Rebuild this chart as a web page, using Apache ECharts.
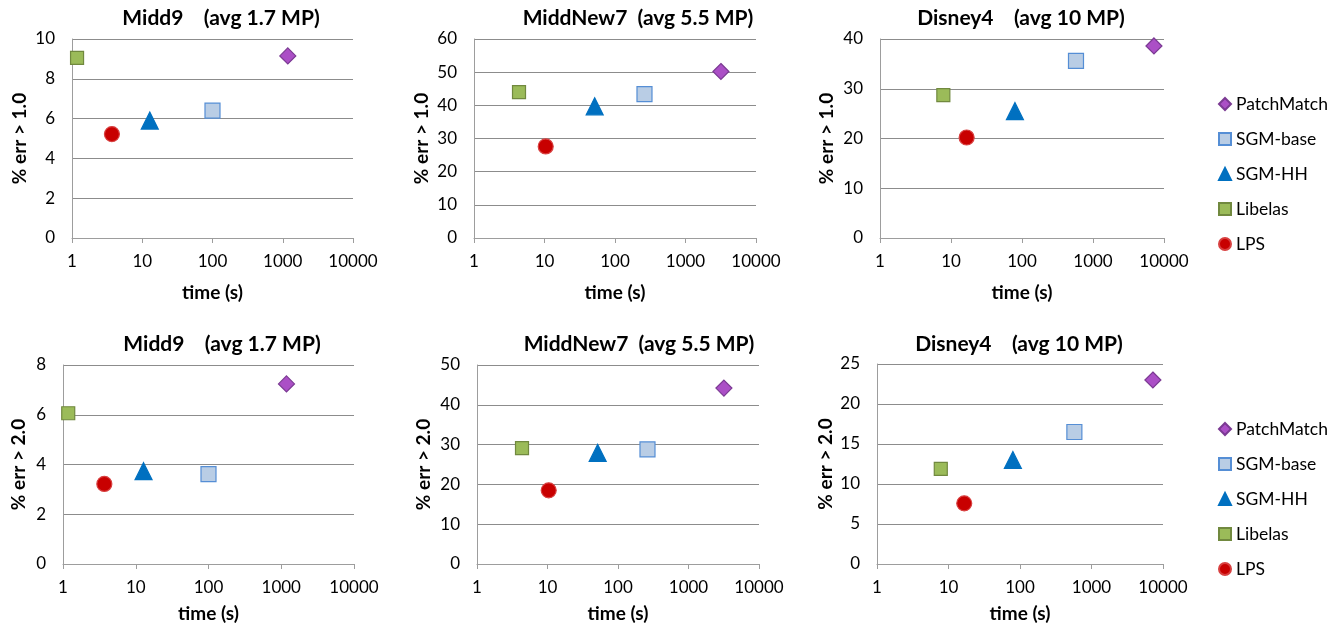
<!DOCTYPE html>
<html>
<head>
<meta charset="utf-8">
<title>Error vs run time</title>
<script src="https://cdn.jsdelivr.net/npm/echarts@6/dist/echarts.min.js"></script>
<style>
html, body { margin: 0; padding: 0; background: #fff; }
#chart { width: 1338px; height: 629px; }
</style>
</head>
<body>
<div id="chart"></div>
<script>
const methods = ['PatchMatch', 'SGM-base', 'SGM-HH', 'Libelas', 'LPS']

// run time in seconds, same order as methods
const midd9Time = [1180, 100, 12.8, 1.18, 3.7]
const middNew7Time = [3180, 262, 51.5, 4.35, 10.4]
const disney4Time = [7220, 576, 79.5, 7.8, 16.6]

// % bad pixels, threshold 1.0
const midd9Err1 = [9.15, 6.4, 5.9, 9.05, 5.22]
const middNew7Err1 = [50.2, 43.4, 39.7, 44.0, 27.6]
const disney4Err1 = [38.6, 35.6, 25.5, 28.7, 20.2]

// % bad pixels, threshold 2.0
const midd9Err2 = [7.24, 3.61, 3.73, 6.06, 3.22]
const middNew7Err2 = [44.2, 28.8, 27.9, 29.1, 18.5]
const disney4Err2 = [23.0, 16.5, 13.0, 11.9, 7.58]

const timeTicks = [1, 10, 100, 1000, 10000]
const titles = ['Midd9    (avg 1.7 MP)', 'MiddNew7  (avg 5.5 MP)', 'Disney4    (avg 10 MP)']
const yNames = ['% err > 1.0', '% err > 2.0']
const yMax = [10, 60, 40, 8, 50, 25]
const yStep = [2, 10, 10, 2, 10, 5]

const panelTime = [midd9Time, middNew7Time, disney4Time, midd9Time, middNew7Time, disney4Time]
const panelErr = [midd9Err1, middNew7Err1, disney4Err1, midd9Err2, middNew7Err2, disney4Err2]

// layout: [left, top, width, height] of each plot area
const boxes = [
  [72, 39, 281, 199], [474, 39, 282, 199], [880, 39, 284, 199],
  [63, 365, 291, 199], [477, 365, 282, 199], [877, 364, 286, 200]
]
const titlePos = [[221, 18], [638, 18], [1021, 18], [222, 344], [639, 344], [1019, 344]]
const xNameGap = [45, 45, 45, 40, 40, 40]
const yNameGap = [43, 43, 44, 35, 44, 42]

const FONT = 'Lato, "Noto Sans", sans-serif'
const AXIS_COLOR = '#9d9d9d'

const markers = {
  'PatchMatch': { symbol: 'diamond', size: 16, color: '#ab4fc6', border: '#7b3a93' },
  'SGM-base': { symbol: 'rect', size: 15, color: '#b9cde5', border: '#558ed5' },
  'SGM-HH': { symbol: 'triangle', size: 17, color: '#0070c0', border: '#0070c0' },
  'Libelas': { symbol: 'rect', size: 13, color: '#9bbb59', border: '#71893f' },
  'LPS': { symbol: 'circle', size: 15, color: '#c80000', border: '#d84040' }
}

const grids = []
const xAxes = []
const yAxes = []
const series = []
const graphics = []

for (let i = 0; i < 6; i++) {
  const b = boxes[i]
  grids.push({ left: b[0], top: b[1], width: b[2], height: b[3], containLabel: false })
  xAxes.push({
    gridIndex: i,
    type: 'log',
    logBase: 10,
    min: timeTicks[0],
    max: timeTicks[timeTicks.length - 1],
    name: 'time (s)',
    nameLocation: 'middle',
    nameGap: xNameGap[i],
    nameTextStyle: { fontFamily: FONT, fontWeight: 'bold', fontSize: 19, color: '#000' },
    axisLine: { lineStyle: { color: AXIS_COLOR } },
    axisTick: { show: true, length: 5, lineStyle: { color: AXIS_COLOR } },
    minorTick: { show: false },
    axisLabel: {
      fontFamily: FONT,
      fontSize: 17,
      color: '#000',
      margin: 15,
      formatter: function (val) {
        return String(Math.round(val))
      }
    },
    splitLine: { show: false }
  })
  yAxes.push({
    gridIndex: i,
    type: 'value',
    min: 0,
    max: yMax[i],
    interval: yStep[i],
    name: yNames[i < 3 ? 0 : 1],
    nameLocation: 'middle',
    nameRotate: 90,
    nameGap: yNameGap[i],
    nameTextStyle: { fontFamily: FONT, fontWeight: 'bold', fontSize: 19, color: '#000' },
    axisLine: { show: true, lineStyle: { color: AXIS_COLOR } },
    axisTick: { show: false },
    axisLabel: { fontFamily: FONT, fontSize: 17, color: '#000', margin: 17 },
    splitLine: { show: true, lineStyle: { color: '#8c8c8c', width: 1 } }
  })
  methods.forEach((m, j) => {
    const mk = markers[m]
    series.push({
      type: 'scatter',
      name: m,
      xAxisIndex: i,
      yAxisIndex: i,
      symbol: mk.symbol,
      symbolSize: mk.size,
      itemStyle: { color: mk.color, borderColor: mk.border, borderWidth: 1.2, opacity: 1 },
      data: [[panelTime[i][j], panelErr[i][j]]]
    })
  })
  graphics.push({
    type: 'text',
    x: titlePos[i][0],
    y: titlePos[i][1],
    style: {
      text: titles[i % 3],
      font: 'bold 21px ' + FONT,
      fill: '#000',
      align: 'center',
      verticalAlign: 'middle',
      textAlign: 'center',
      textVerticalAlign: 'middle'
    }
  })
}

function makeLegend (top) {
  return {
    orient: 'vertical',
    left: 1218,
    top: top,
    padding: 0,
    itemGap: 17,
    itemWidth: 12,
    itemHeight: 12,
    selectedMode: false,
    data: methods,
    textStyle: { fontFamily: FONT, fontSize: 17.5, color: '#000' }
  }
}

const chart = echarts.init(document.getElementById('chart'))
chart.setOption({
  animation: false,
  backgroundColor: '#fff',
  grid: grids,
  xAxis: xAxes,
  yAxis: yAxes,
  legend: [makeLegend(95), makeLegend(420)],
  graphic: graphics,
  series: series
})
</script>
</body>
</html>
